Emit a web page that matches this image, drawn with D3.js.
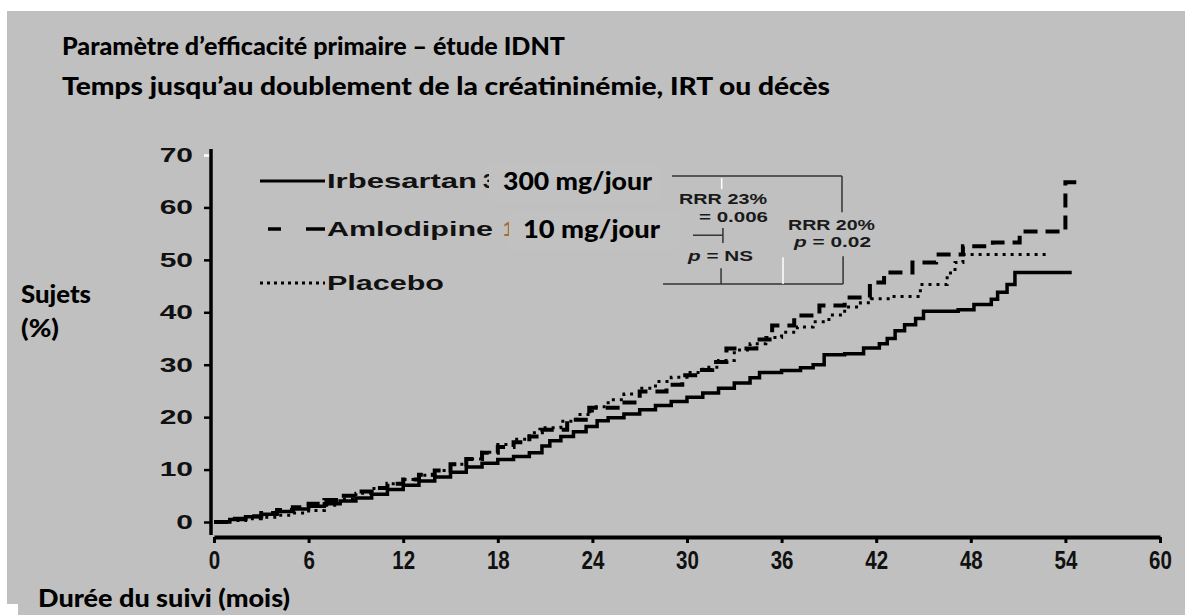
<!DOCTYPE html>
<html>
<head>
<meta charset="utf-8">
<script src="https://cdn.jsdelivr.net/npm/d3@7"></script>
<style>
  body { margin: 0; background: #fff; }
  svg { display: block; }
</style>
</head>
<body>
<div id="chart"></div>
<script>
// Kaplan-Meier steps: [month, % of subjects]
const irbesartan = [
  [0, 0], [1, 0.5], [2, 1], [3, 1.5], [4, 2], [5, 2.5], [6, 3], [7, 3.5], [8, 4], [9, 4.6],
  [10, 5.3], [11, 6.2], [12, 7], [13, 7.8], [14, 8.6], [15, 9.5], [16, 10.5], [17, 11.2],
  [18, 11.9], [19, 12.5], [20, 13.2], [20.8, 14.5], [21.3, 15.5], [22, 16.3], [22.8, 17.2],
  [23.6, 18.2], [24.3, 19.3], [25, 19.9], [26, 20.6], [27, 21.4], [28, 22.2], [29, 23],
  [30, 23.8], [31, 24.6], [32, 25.5], [33, 26.5], [34, 27.5], [34.6, 28.5], [36, 28.9],
  [37.2, 29.4], [38, 30], [38.7, 31.9], [40, 32.1], [41.2, 33.2], [42.2, 34], [42.7, 35],
  [43.2, 36.5], [43.8, 37.6], [44.5, 38.8], [45, 40.2], [47.2, 40.5], [48.2, 41.5],
  [49.3, 42.5], [49.7, 43.8], [50.3, 45.3], [50.8, 47.6], [54.4, 47.6]
];
const amlodipine = [
  [0, 0], [1, 0.6], [2, 1.1], [3, 1.7], [4, 2.3], [5, 2.8], [6, 3.5], [7, 4.2], [8, 5],
  [9, 5.8], [10, 6.5], [11, 7.3], [12, 8.1], [13, 9], [14, 9.8], [15, 11], [16, 12],
  [17, 13.2], [18, 14.3], [19, 15.2], [20, 16.3], [20.7, 17.6], [22.4, 19.5], [23.8, 21.8],
  [25.6, 22.8], [27, 24.9], [28.7, 26.2], [29.7, 28], [30.8, 29], [31.6, 30.5], [32.5, 33.1],
  [34.4, 34.8], [35.4, 37.5], [36.8, 39.4], [38.4, 41.3], [40, 42.8], [41.6, 45.7],
  [42.5, 47.6], [44.3, 49.5], [45.8, 51], [47.5, 52.6], [49.4, 53.3], [51.1, 55.4],
  [54, 64.8], [54.9, 64.8]
];
const placebo = [
  [0, 0], [1, 0.3], [2, 0.6], [3, 0.9], [4, 1.3], [5, 1.7], [6, 2.2], [7, 3.2], [8, 4.4],
  [9, 5.5], [10, 6.4], [11, 7.3], [12, 8.1], [13, 8.9], [14, 9.8], [15, 11], [16, 12],
  [17, 13.3], [18, 14.8], [19, 15.8], [20, 17], [21, 18], [22, 19.2], [23, 20.5], [24, 22],
  [25, 23.3], [26, 24.4], [27, 25.5], [28, 26.8], [29, 27.6], [30, 28.5], [31, 29.5],
  [32, 30.8], [33, 32.8], [34, 34], [35, 35.2], [36, 36.2], [37, 37.2], [38, 38.2],
  [39, 39.5], [40, 41], [41, 41.8], [41.5, 42.6], [43, 43], [44.8, 45.3], [46.5, 47.5],
  [47, 49.5], [47.5, 51], [52.9, 51]
];

const xTicks = [0, 6, 12, 18, 24, 30, 36, 42, 48, 54, 60];
const yTicks = [0, 10, 20, 30, 40, 50, 60, 70];

const titleLines = [
  "Paramètre d’efficacité primaire – étude IDNT",
  "Temps jusqu’au doublement de la créatininémie, IRT ou décès"
];
const yLabelLines = ["Sujets", "(%)"];
const xLabel = "Durée du suivi (mois)";
const legendNames = ["Irbesartan", "Amlodipine", "Placebo"];
const legendCut = ["3", "1", ""];
const legendDoses = ["300 mg/jour", "10 mg/jour", ""];

// bracket of the p-value annotation, in [month, %] units
const bracket = [
  [[29.05, 66], [39.83, 66]],
  [[39.83, 66], [39.83, 59.1]],
  [[39.9, 50.7], [39.9, 45.4]],
  [[28.48, 45.4], [39.9, 45.4]],
  [[32.16, 48.4], [32.16, 45.4]],
  [[30.38, 54.7], [32.28, 54.7]],
  [[32.28, 56.1], [32.28, 53.2]]
];
const bracketGaps = [
  [[32.2, 65.6], [32.2, 63.5]],
  [[36.09, 50.5], [36.09, 45.4]]
];

const W = 1185, H = 615;
const bg = "#c0c0c0";
const wideFont = "'Liberation Sans', Arial, sans-serif";
const calFont = "Lato, 'Open Sans', sans-serif";

const svg = d3.select("#chart")
  .append("svg")
  .attr("width", W)
  .attr("height", H);

// slide background
svg.append("rect").attr("width", W).attr("height", H).attr("fill", "#fff");
svg.append("rect").attr("x", 7).attr("y", 11).attr("width", W - 7).attr("height", H - 11).attr("fill", bg);
svg.append("rect").attr("x", 0).attr("y", 604).attr("width", 18).attr("height", 11).attr("fill", "#fff");

const x = d3.scaleLinear().domain([0, 60]).range([214, 1160]);
const y = d3.scaleLinear().domain([0, 70]).range([522, 155]);

// stretch a text element to a given width
function fit(sel, w) {
  sel.attr("textLength", w).attr("lengthAdjust", "spacingAndGlyphs");
}

// Titles
titleLines.forEach((t, i) => {
  svg.append("text")
    .attr("x", 62).attr("y", 55 + i * 40)
    .style("font-family", calFont).style("font-weight", 900).style("font-size", "24px")
    .attr("fill", "#000")
    .text(t)
    .call(fit, i === 0 ? 503 : 768);
});

// Y axis
const yAxis = d3.axisLeft(y).tickValues(yTicks).tickSize(7).tickPadding(11).tickSizeOuter(0);
const gy = svg.append("g").attr("transform", `translate(${x(0) - 3},0)`).call(yAxis);
gy.select(".domain").remove();
gy.selectAll(".tick line").attr("stroke", "#000").attr("stroke-width", 2.5);
gy.selectAll(".tick").filter((d) => d === 70).select("line").attr("stroke", "#fff");
gy.selectAll(".tick text")
  .style("font-family", wideFont).style("font-weight", 700).style("font-size", "20px")
  .attr("fill", "#111")
  .each(function () {
    const w = this.getComputedTextLength();
    d3.select(this).call(fit, w * 1.5);
  });
gy.append("line")
  .attr("x1", 0).attr("x2", 0)
  .attr("y1", y(70) - 6).attr("y2", y(0) + 13)
  .attr("stroke", "#000").attr("stroke-width", 3.5);

// X axis
const xAxis = d3.axisBottom(x).tickValues(xTicks).tickSize(6).tickPadding(8).tickSizeOuter(0);
const gx = svg.append("g").attr("transform", `translate(0,${y(0) + 15})`).call(xAxis);
gx.select(".domain").attr("stroke", "#000").attr("stroke-width", 4);
gx.selectAll(".tick line").attr("stroke", "#000").attr("stroke-width", 3);
gx.selectAll(".tick text")
  .style("font-family", wideFont).style("font-weight", 700).style("font-size", "25px")
  .attr("fill", "#111")
  .each(function () {
    const w = this.getComputedTextLength();
    d3.select(this).call(fit, w * 0.82);
  });

// axis titles
yLabelLines.forEach((t, i) => {
  svg.append("text")
    .attr("x", 21).attr("y", 303 + i * 34)
    .style("font-family", calFont).style("font-weight", 900).style("font-size", "24px")
    .attr("fill", "#000")
    .text(t)
    .call(fit, i === 0 ? 70 : 38);
});
svg.append("text")
  .attr("x", 38).attr("y", 607)
  .style("font-family", calFont).style("font-weight", 900).style("font-size", "24px")
  .attr("fill", "#000")
  .text(xLabel)
  .call(fit, 252);

// Curves
const line = d3.line()
  .x((d) => x(d[0]))
  .y((d) => y(d[1]))
  .curve(d3.curveStepAfter);

const series = [
  { data: placebo, width: 3, dash: "3,5" },
  { data: amlodipine, width: 4, dash: "14,8" },
  { data: irbesartan, width: 3.5, dash: null }
];

series.forEach((s) => {
  svg.append("path")
    .datum(s.data)
    .attr("d", line)
    .attr("fill", "none")
    .attr("stroke", "#000")
    .attr("stroke-width", s.width)
    .attr("stroke-dasharray", s.dash);
});

// Legend
const legendY = [181, 229, 283];
const legendDash = [null, "13,25,20,0", "3,4"];
const legendNameW = [150, 166, 117];
legendNames.forEach((name, i) => {
  const ly = legendY[i];
  svg.append("line")
    .attr("x1", i === 1 ? 268 : 260).attr("x2", 325)
    .attr("y1", ly).attr("y2", ly)
    .attr("stroke", "#000").attr("stroke-width", i === 1 ? 3.5 : 3)
    .attr("stroke-dasharray", legendDash[i]);
  svg.append("text")
    .attr("x", 327).attr("y", ly + 7)
    .style("font-family", wideFont).style("font-weight", 700).style("font-size", "21px")
    .attr("fill", "#111")
    .text(name)
    .call(fit, legendNameW[i]);
  if (legendCut[i]) {
    const cx = i === 0 ? 483 : 503;
    svg.append("text")
      .attr("x", cx).attr("y", ly + 7)
      .style("font-family", wideFont).style("font-weight", 700).style("font-size", "21px")
      .attr("fill", i === 0 ? "#111" : "#a0703a")
      .text(legendCut[i]);
    const bx = i === 0 ? 489 : 509;
    svg.append("rect")
      .attr("x", bx).attr("y", ly - 17).attr("width", 170).attr("height", 38)
      .attr("fill", "#c1c1c1");
    svg.append("text")
      .attr("x", i === 0 ? 503 : 523).attr("y", ly + 9)
      .style("font-family", calFont).style("font-weight", 900).style("font-size", "24px")
      .attr("fill", "#000")
      .text(legendDoses[i])
      .call(fit, i === 0 ? 149 : 137);
  }
});

// p-value bracket
bracket.forEach((seg) => {
  svg.append("line")
    .attr("x1", x(seg[0][0])).attr("y1", y(seg[0][1]))
    .attr("x2", x(seg[1][0])).attr("y2", y(seg[1][1]))
    .attr("stroke", "#333").attr("stroke-width", 1.5);
});
bracketGaps.forEach((seg) => {
  svg.append("line")
    .attr("x1", x(seg[0][0])).attr("y1", y(seg[0][1]))
    .attr("x2", x(seg[1][0])).attr("y2", y(seg[1][1]))
    .attr("stroke", "#fff").attr("stroke-width", 1.5);
});

const notes = [
  { parts: [["RRR 23%", false]], x: 679, y: 204, w: 88 },
  { parts: [["= 0.006", false]], x: 699, y: 222, w: 69 },
  { parts: [["p", true], [" = NS", false]], x: 688, y: 261, w: 65 },
  { parts: [["RRR 20%", false]], x: 788, y: 230, w: 87 },
  { parts: [["p", true], [" = 0.02", false]], x: 794, y: 247, w: 77 }
];
notes.forEach((n) => {
  const t = svg.append("text")
    .attr("x", n.x).attr("y", n.y)
    .style("font-family", wideFont).style("font-weight", 700).style("font-size", "15px")
    .attr("fill", "#1a1a1a");
  n.parts.forEach((p) => {
    t.append("tspan").style("font-style", p[1] ? "italic" : "normal").text(p[0]);
  });
  t.call(fit, n.w);
});
</script>
</body>
</html>
